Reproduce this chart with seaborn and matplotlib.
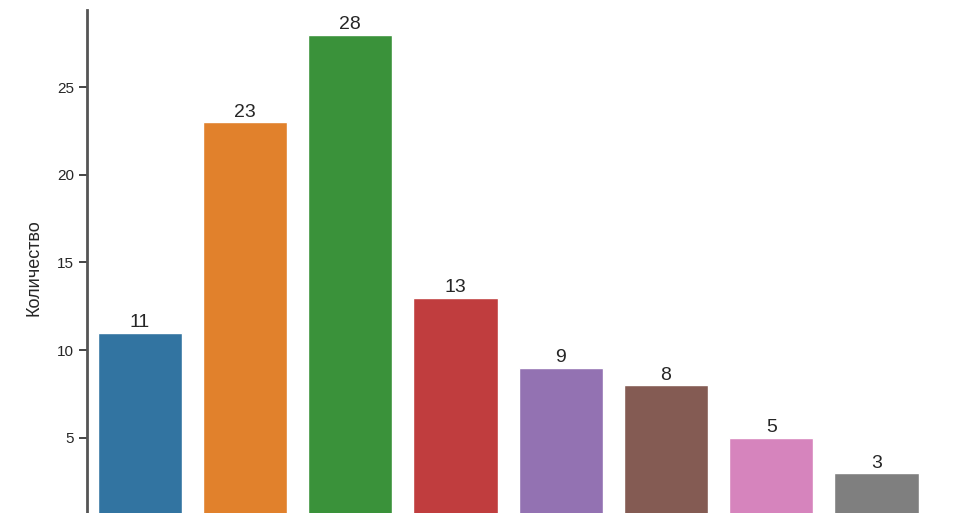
import seaborn as sns
import matplotlib.pyplot as plt
import pandas as pd

categories = ["1", "2", "3", "4", "5", "6", "7", "8"]
counts = [11, 23, 28, 13, 9, 8, 5, 3]

df = pd.DataFrame({"cat": categories, "count": counts})

sns.set_style("ticks")
plt.rcParams["font.family"] = ["Liberation Sans", "DejaVu Sans"]
fig = plt.figure(figsize=(9.72, 5.13), dpi=100)
ax = fig.add_axes([0.0895, -0.0244, 0.8665, 1.005])
sns.barplot(data=df, x="cat", y="count", hue="cat", palette="tab10",
            legend=False, ax=ax)
sns.despine(ax=ax)

for c in ax.containers:
    ax.bar_label(c, fontsize=14, padding=1)

ax.set_ylim(0, 29.4)
ax.set_yticks([5, 10, 15, 20, 25])
ax.tick_params(axis="y", labelsize=11, length=6, width=1.2)
ax.tick_params(axis="x", labelbottom=False, bottom=False)
ax.set_xlabel("")
ax.set_ylabel("Количество", fontsize=13, labelpad=10)
ax.spines["left"].set_linewidth(2)
ax.spines["left"].set_color("#555555")

fig.savefig("out.png", dpi=100)
